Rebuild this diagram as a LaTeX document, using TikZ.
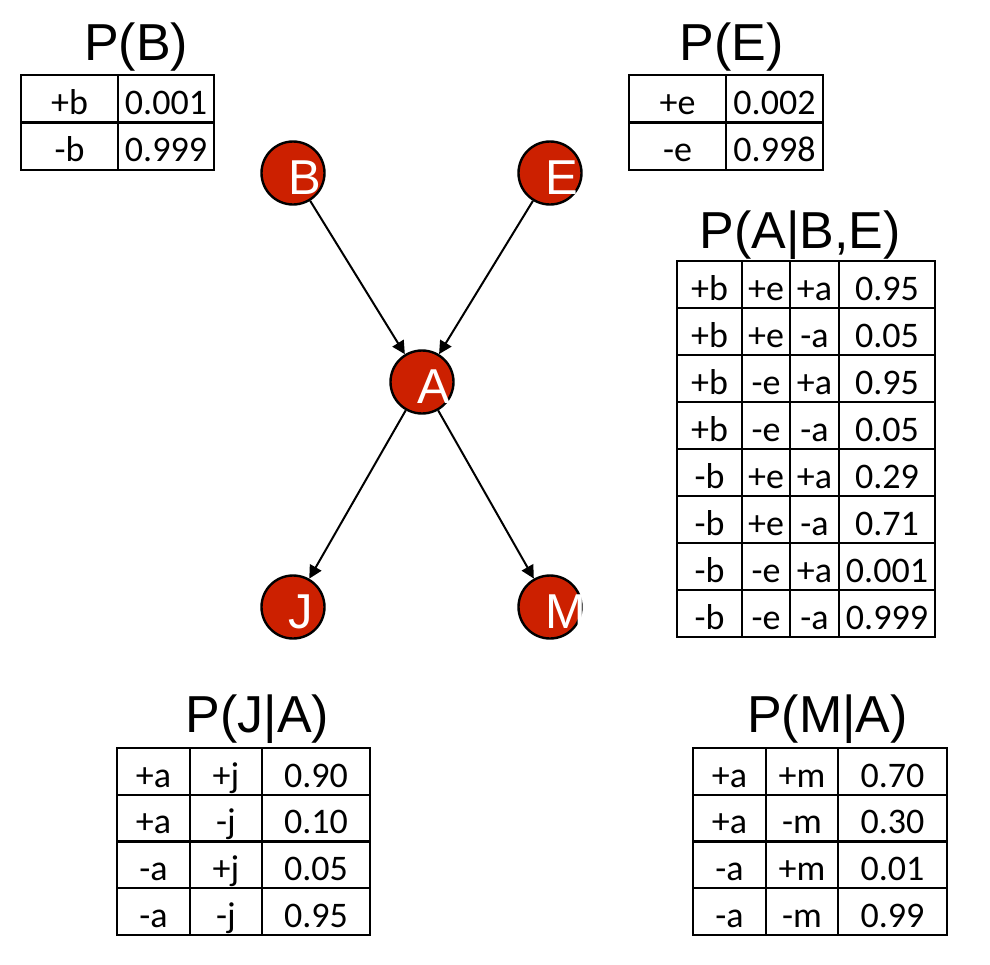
\documentclass[tikz,border=0pt]{standalone}
\usepackage{fontspec}
\setmainfont{Liberation Sans}
\newfontfamily\cellfont{Carlito}
\usetikzlibrary{arrows.meta}
\definecolor{nodered}{RGB}{204,32,0}

\begin{document}
\begin{tikzpicture}[x=0.5pt, y=-0.5pt,
        var/.style={circle, draw=black, line width=1.2pt, fill=nodered, minimum size=31.5pt, inner sep=0pt},
        varname/.style={anchor=base west, inner sep=0pt, text=white, font=\fontsize{24.5}{24.5}\selectfont},
        edge/.style={-{Triangle[length=6.5pt,width=6.5pt]}, line width=1pt},
        titre/.style={anchor=base, inner sep=0pt, font=\fontsize{26}{26}\selectfont},
        cell/.style={anchor=base, inner sep=0pt, font=\cellfont\fontsize{18}{18}\selectfont},
        tbl/.style={line width=1.1pt}]
            \useasboundingbox (0,0) rectangle (990,964);

            % P(B)
            \node[titre] (tB) at (136,60) {P(B)};
            \draw[tbl] (21,75) rectangle (214,170);
            \draw[tbl] (118,75) -- (118,170);
            \draw[tbl] (21,122.5) -- (214,122.5);
            \foreach \xv/\xp [count=\i from 0] in {+b/0.001, -b/0.999}{
                    \node[cell] (pb-\i-1) at (69.5,{114+47.5*\i}) {\xv};
                    \node[cell] (pb-\i-2) at (166,{114+47.5*\i}) {\xp};
                }

            % P(E)
            \node[titre] (tE) at (731.5,60) {P(E)};
            \draw[tbl] (629,75) rectangle (823,170);
            \draw[tbl] (726,75) -- (726,170);
            \draw[tbl] (629,122.5) -- (823,122.5);
            \foreach \xv/\xp [count=\i from 0] in {+e/0.002, -e/0.998}{
                    \node[cell] (pe-\i-1) at (677.5,{114+47.5*\i}) {\xv};
                    \node[cell] (pe-\i-2) at (774.5,{114+47.5*\i}) {\xp};
                }

            % P(A|B,E)
            \node[titre] (tA) at (800,248) {P(A|B,E)};
            \draw[tbl] (677,261) rectangle (935,637);
            \foreach \x in {742,790,839}{
                    \draw[tbl] (\x,261) -- (\x,637);
                }
            \foreach \y in {308,355,402,449,496,543,590}{
                    \draw[tbl] (677,\y) -- (935,\y);
                }
            \foreach \xb/\xe/\xa/\xp [count=\i from 0] in {+b/+e/+a/0.95, +b/+e/-a/0.05,
                    +b/-e/+a/0.95, +b/-e/-a/0.05, -b/+e/+a/0.29, -b/+e/-a/0.71,
                    -b/-e/+a/0.001, -b/-e/-a/0.999}{
                    \node[cell] (pa-\i-1) at (709.5,{300+47*\i}) {\xb};
                    \node[cell] (pa-\i-2) at (766,{300+47*\i}) {\xe};
                    \node[cell] (pa-\i-3) at (814.5,{300+47*\i}) {\xa};
                    \node[cell] (pa-\i-4) at (887,{300+47*\i}) {\xp};
                }

            % P(J|A)
            \node[titre] (tJ) at (257.5,732) {P(J|A)};
            \draw[tbl] (117,748) rectangle (370,935);
            \draw[tbl] (190,748) -- (190,935);
            \draw[tbl] (262,748) -- (262,935);
            \foreach \y in {794.75,841.5,888.25}{
                    \draw[tbl] (117,\y) -- (370,\y);
                }
            \foreach \xa/\xj/\xp [count=\i from 0] in {+a/+j/0.90, +a/-j/0.10, -a/+j/0.05, -a/-j/0.95}{
                    \node[cell] (pj-\i-1) at (153.5,{787+46.75*\i}) {\xa};
                    \node[cell] (pj-\i-2) at (226,{787+46.75*\i}) {\xj};
                    \node[cell] (pj-\i-3) at (316,{787+46.75*\i}) {\xp};
                }

            % P(M|A)
            \node[titre] (tM) at (827.5,732) {P(M|A)};
            \draw[tbl] (693,748) rectangle (947,935);
            \draw[tbl] (766,748) -- (766,935);
            \draw[tbl] (838,748) -- (838,935);
            \foreach \y in {794.75,841.5,888.25}{
                    \draw[tbl] (693,\y) -- (947,\y);
                }
            \foreach \xa/\xm/\xp [count=\i from 0] in {+a/+m/0.70, +a/-m/0.30, -a/+m/0.01, -a/-m/0.99}{
                    \node[cell] (pm-\i-1) at (729.5,{787+46.75*\i}) {\xa};
                    \node[cell] (pm-\i-2) at (802,{787+46.75*\i}) {\xm};
                    \node[cell] (pm-\i-3) at (892.5,{787+46.75*\i}) {\xp};
                }

            % le reseau
            \node[var] (B) at (293,173) {};
            \node[var] (E) at (550,173) {};
            \node[var] (A) at (422,382) {};
            \node[var] (J) at (293,607) {};
            \node[var] (M) at (550,607) {};
            \draw[edge] (B) -- (A);
            \draw[edge] (E) -- (A);
            \draw[edge] (A) -- (J);
            \draw[edge] (A) -- (M);
            \foreach \n in {B,E,A,J,M}{
                    \node[varname] (\n-name) at ([xshift=-2.3pt,yshift=-10.5pt]\n.center) {\n};
                }

        \end{tikzpicture}
\end{document}
